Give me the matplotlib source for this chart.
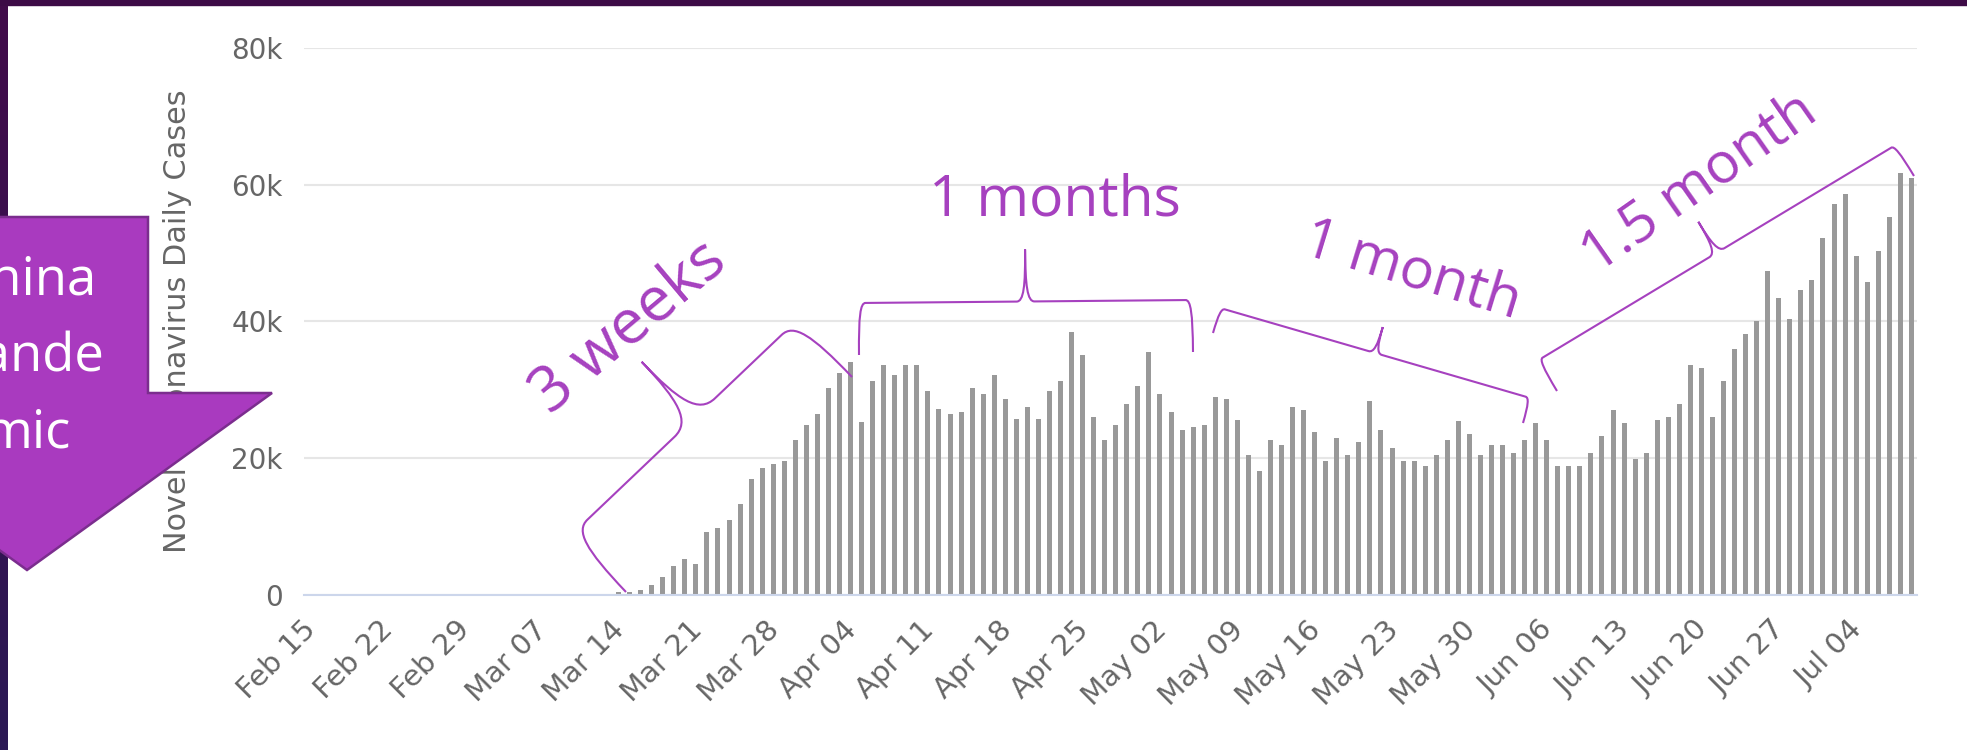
import numpy as np
import pandas as pd
import matplotlib
matplotlib.use('Agg')
import matplotlib.pyplot as plt
from matplotlib.path import Path
from matplotlib.patches import PathPatch, Polygon, Rectangle
from matplotlib.colors import LinearSegmentedColormap
from matplotlib.transforms import ScaledTranslation

W, H, DPI = 1967, 750, 100

# ---- data: US daily new cases, Feb 15 .. Jul 09 2020
dates = pd.date_range('2020-02-15', '2020-07-09', freq='D')
feb_cases = [0] * 15
early_mar_cases = [8, 12, 14, 20, 31, 28, 45, 52, 60, 66, 74, 85, 92]
mar_cases = [430, 450, 770, 1500, 2650, 4200, 5300, 4600, 9200, 9800,
             11000, 13300, 17000, 18600, 19200, 19600, 22700, 24900]
apr_cases = [26400, 30200, 32400, 34000, 25300, 31300, 33600, 32100, 33600, 33600,
             29800, 27200, 26400, 26800, 30200, 29400, 32100, 28700, 25700, 27500,
             25700, 29800, 31300, 38500, 35100, 26000, 22700, 24900, 27900, 30600]
may_cases = [35500, 29400, 26800, 24100, 24500, 24900, 29000, 28700, 25600, 20400,
             18200, 22700, 21900, 27500, 27100, 23800, 19600, 23000, 20400, 22300,
             28300, 24100, 21500, 19600, 19600, 18900, 20400, 22700, 25400, 23500,
             20500]
jun_cases = [22000, 22000, 20700, 22600, 25200, 22600, 18800, 18800, 18800, 20700,
             23300, 27100, 25200, 19900, 20700, 25600, 26000, 27900, 33600, 33200,
             26000, 31300, 35900, 38200, 40000, 47300, 43400, 40400, 44600, 46100]
jul_cases = [52200, 57100, 58600, 49600, 45700, 50300, 55200, 61700, 60900]
daily_cases = feb_cases + early_mar_cases + mar_cases + apr_cases + may_cases + jun_cases + jul_cases

tick_labels = [d.strftime('%b %d') for d in dates[::7]]
y_ticks = [0, 20000, 40000, 60000, 80000]
y_tick_labels = ['0', '20k', '40k', '60k', '80k']

fig = plt.figure(figsize=(W / DPI, H / DPI), dpi=DPI)
fig.patch.set_facecolor('white')

# ---- chart
ax_l, ax_r, y_zero, y_top = 303.6, 1916.9, 595, 47.8
ax = fig.add_axes([ax_l / W, (H - y_zero) / H, (ax_r - ax_l) / W, (y_zero - y_top) / H])
x = np.arange(len(daily_cases))
ax.bar(x, daily_cases, width=0.45, color='#999999', zorder=3)
ax.set_xlim(-0.5, len(x) - 0.5)
ax.set_ylim(0, 80000)
ax.set_yticks(y_ticks)
ax.set_yticklabels(y_tick_labels)
ax.set_axisbelow(True)
ax.yaxis.grid(True, color='#e6e6e6', lw=1.5)
for s in ['top', 'right', 'left']:
    ax.spines[s].set_visible(False)
ax.spines['bottom'].set_color('#ccd6eb')
ax.spines['bottom'].set_linewidth(1.5)
ax.spines['bottom'].set_zorder(4)
ax.tick_params(axis='y', length=0, pad=15, labelsize=20, labelcolor='#666666')
ax.set_xticks(x[::7])
ax.set_xticklabels(tick_labels, rotation=45, ha='right', va='center', rotation_mode='anchor')
ax.tick_params(axis='x', length=0, pad=22, labelsize=21, labelcolor='#666666')
shift = ScaledTranslation(2 / DPI, 0, fig.dpi_scale_trans)
for lab in ax.get_xticklabels():
    lab.set_transform(lab.get_transform() + shift)
ax.text(-0.078, 0.5, 'Novel Coronavirus Daily Cases', transform=ax.transAxes, rotation=90,
        ha='center', va='center', fontsize=21.8, color='#666666')

# ---- slide overlay (pixel coords, y down)
ov = fig.add_axes([0, 0, 1, 1], zorder=10)
ov.patch.set_visible(False)
ov.axis('off')

cmap = LinearSegmentedColormap.from_list('edge', ['#420b4a', '#2b1955'])
ov.imshow(np.linspace(0, 1, 100).reshape(-1, 1), cmap=cmap, extent=[0, 7, H, 0],
          aspect='auto', zorder=1)
ov.add_patch(Rectangle((0, 0), W, 5, color='#3d0b46', zorder=1))
ov.set_xlim(0, W)
ov.set_ylim(H, 0)

arrow = [(-100, 217), (148, 217), (148, 393), (272, 393), (27, 570), (-218, 393), (-100, 393)]
ov.add_patch(Polygon(arrow, closed=True, facecolor='#a93abf', edgecolor='#7b2d8e', lw=1.8, zorder=2))
for txt, yb in [('China', 295), ('Pande', 372), ('mic', 447)]:
    ov.text(27, yb, txt, ha='center', va='baseline', color='white', fontsize=38,
            family=['Open Sans', 'DejaVu Sans'], zorder=3)

PURPLE = '#a641bf'


def brace(p0, p1, h1, h2, r, w, mid=0.5):
    p0 = np.array(p0, float)
    p1 = np.array(p1, float)
    L = np.linalg.norm(p1 - p0)
    d = (p1 - p0) / L
    n = np.array([d[1], -d[0]])
    m = mid * L
    top = h1 + h2
    local = [(0, 0),
             (0, 0.75 * h1), (0.25 * r, h1), (r, h1),
             (m - w, h1),
             (m - 0.2 * w, h1), (m, h1 + 0.3 * h2), (m, top),
             (m, h1 + 0.3 * h2), (m + 0.2 * w, h1), (m + w, h1),
             (L - r, h1),
             (L - 0.25 * r, h1), (L, 0.75 * h1), (L, 0)]
    codes = ([Path.MOVETO] + [Path.CURVE4] * 3 + [Path.LINETO] + [Path.CURVE4] * 6
             + [Path.LINETO] + [Path.CURVE4] * 3)
    pts = [p0 + u * d + v * n for u, v in local]
    ov.add_patch(PathPatch(Path(pts, codes), fill=False, edgecolor=PURPLE, lw=1.5, zorder=4))


brace((626, 592), (852, 377), 79, 77, 22, 28, mid=0.545)
brace((859, 355), (1193, 352), 52, 52, 7, 9)
brace((1213, 333), (1523, 423), 26, 27, 5, 7)
brace((1557, 391), (1914, 176), 36, 36, 5, 9)

font_ann = ['Open Sans', 'DejaVu Sans']
ov.text(630, 328, '3 weeks', rotation=40, ha='center', va='center', fontsize=45,
        color=PURPLE, family=font_ann, rotation_mode='anchor', zorder=5)
ov.text(1055, 216, '1 months', ha='center', va='baseline', fontsize=41,
        color=PURPLE, family=font_ann, zorder=5)
ov.text(1412, 271, '1 month', rotation=-17, ha='center', va='center', fontsize=41,
        color=PURPLE, family=font_ann, rotation_mode='anchor', zorder=5)
ov.text(1700, 184, '1.5 month', rotation=35, ha='center', va='center', fontsize=41,
        color=PURPLE, family=font_ann, rotation_mode='anchor', zorder=5)

fig.savefig('out.png', dpi=DPI)
